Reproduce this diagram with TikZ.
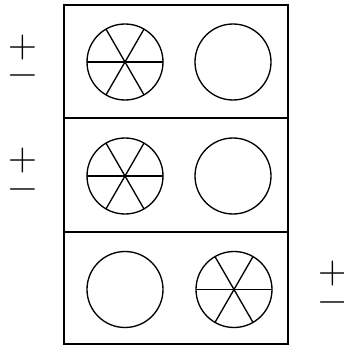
\documentclass[tikz,border=0pt]{standalone}
\usepackage{amssymb,tikz}

\begin{document}
\begin{tikzpicture}[x=0.75pt,y=-0.75pt,line width=1pt]
\useasboundingbox (0,0) rectangle (343,345);
% frame and rows
\draw (64,5) rectangle (288,344);
\draw (64,118) -- (288,118);
\draw (64,232) -- (288,232);
% top row
\draw (125,62) circle (38);
\draw (87,62) -- (163,62);
\draw (106,29.1) -- (144,94.9);
\draw (144,29.1) -- (106,94.9);
\draw (233,62) circle (38);
% middle row
\draw (125,176) circle (38);
\draw (87,176) -- (163,176);
\draw (106,143.1) -- (144,208.9);
\draw (144,143.1) -- (106,208.9);
\draw (233,176) circle (38);
% bottom row
\draw (125,289.5) circle (38);
\draw (234,289.5) circle (38);
\draw (196,289.5) -- (272,289.5);
\draw (215,256.6) -- (253,322.4);
\draw (253,256.6) -- (215,322.4);
% signs
\node[inner sep=0,font=\fontsize{30}{30}\selectfont] (p1) at (22.5,48) {+};
\node[inner sep=0,font=\fontsize{30}{30}\selectfont] (m1) at (22.5,80) {−};
\node[inner sep=0,font=\fontsize{30}{30}\selectfont] (p2) at (22.5,161) {+};
\node[inner sep=0,font=\fontsize{30}{30}\selectfont] (m2) at (22.5,194) {−};
\node[inner sep=0,font=\fontsize{30}{30}\selectfont] (p3) at (333,274) {+};
\node[inner sep=0,font=\fontsize{30}{30}\selectfont] (m3) at (333,307) {−};
\end{tikzpicture}
\end{document}
